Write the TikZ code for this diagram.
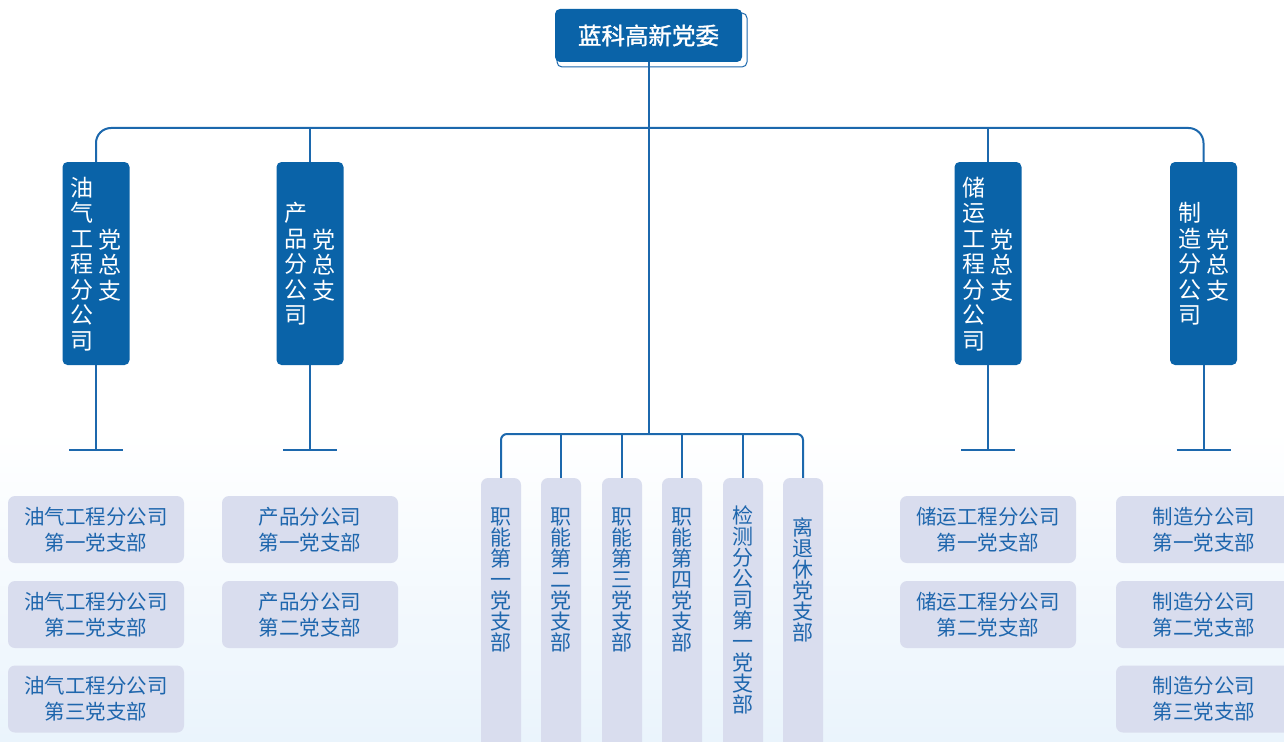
\documentclass[tikz,border=0pt]{standalone}
\usepackage{fontspec}
\setmainfont{Noto Sans CJK SC}
\newfontfamily\cjkbold[FakeBold=1.4]{Noto Sans CJK SC}
\definecolor{dblue}{HTML}{0A63A8}
\definecolor{lblue}{HTML}{1C68AD}
\definecolor{lav}{HTML}{D9DDEE}
\definecolor{tblue}{HTML}{1E66AD}
\definecolor{bgb}{HTML}{EAF4FC}
\begin{document}
\begin{tikzpicture}[x=1pt,y=-1pt,
 conn/.style={draw=lblue,line width=2pt},
 topbox/.style={fill=dblue,rounded corners=5pt,minimum width=187pt,minimum height=53pt,inner sep=0pt,text=white,font=\cjkbold\fontsize{23.5}{26}\selectfont},
 topshadow/.style={draw=lblue,fill=white,line width=1pt,rounded corners=5pt,minimum width=190pt,minimum height=54pt,inner sep=0pt},
 l2box/.style={fill=dblue,rounded corners=5pt,minimum width=67pt,minimum height=203pt,inner sep=0pt},
 l2txt/.style={text=white,align=center,inner sep=0pt,font=\fontsize{23}{25.5}\selectfont},
 leaf/.style={fill=lav,rounded corners=7pt,minimum width=176pt,minimum height=67pt,inner sep=0pt,text=tblue,align=center,font=\fontsize{20.5}{26}\selectfont},
 mleaf/.style={fill=lav,rounded corners=7pt,minimum width=40pt,minimum height=282pt,inner sep=0pt},
 mtxt/.style={text=tblue,align=center,inner sep=0pt,font=\fontsize{21}{21}\selectfont},
]
% canvas and background
\useasboundingbox (0pt,0pt) rectangle (1284pt,-741pt);
\fill[white] (0pt,0pt) rectangle (1284pt,-741pt);
\shade[top color=white,bottom color=bgb] (0pt,-741pt) rectangle (1284pt,-430pt);

% top node
\node[topshadow] (topsh) at (652,40) {};
\node[topbox] (top) at (648.5,35.5) {蓝科高新党委};

% level 2 boxes
\node[l2box] (l1) at (96,263.5) {};
\node[l2box] (l2) at (310,263.5) {};
\node[l2box] (r1) at (988,263.5) {};
\node[l2box] (r2) at (1203.5,263.5) {};

\node[l2txt] (l1a) at (82,264) {油\\气\\工\\程\\分\\公\\司};
\node[l2txt] (l1b) at (110,265) {党\\总\\支};
\node[l2txt] (l2a) at (296,264) {产\\品\\分\\公\\司};
\node[l2txt] (l2b) at (324,265) {党\\总\\支};
\node[l2txt] (r1a) at (974,264) {储\\运\\工\\程\\分\\公\\司};
\node[l2txt] (r1b) at (1002,265) {党\\总\\支};
\node[l2txt] (r2a) at (1189.5,264) {制\\造\\分\\公\\司};
\node[l2txt] (r2b) at (1217.5,265) {党\\总\\支};

% connectors top
\coordinate (bus) at (0,128);
\coordinate (mbus) at (0,434);
\draw[conn,rounded corners=15pt] (l1.north) |- (r2.north |- bus) -- (r2.north);
\draw[conn] (l2.north) -- (l2.north |- bus);
\draw[conn] (r1.north) -- (r1.north |- bus);
\draw[conn] (top.south) -- (top.south |- mbus);

% stubs under level 2
\foreach \n in {l1,l2,r1,r2}{
  \coordinate (\n e) at (\n.south |- 0,450);
  \draw[conn] (\n.south) -- (\n e);
  \draw[conn] ([xshift=-27pt]\n e) -- ([xshift=27pt]\n e);
}

% middle leaves
\node[mleaf] (m1) at (501,619) {};
\node[mleaf] (m2) at (561,619) {};
\node[mleaf] (m3) at (622,619) {};
\node[mleaf] (m4) at (682,619) {};
\node[mleaf] (m5) at (743,619) {};
\node[mleaf] (m6) at (803,619) {};
\node[mtxt] (m1t) at (501,580) {职\\能\\第\\一\\党\\支\\部};
\node[mtxt] (m2t) at (561,580) {职\\能\\第\\二\\党\\支\\部};
\node[mtxt] (m3t) at (622,580) {职\\能\\第\\三\\党\\支\\部};
\node[mtxt] (m4t) at (682,580) {职\\能\\第\\四\\党\\支\\部};
\node[mtxt] (m5t) at (743,610) {检\\测\\分\\公\\司\\第\\一\\党\\支\\部};
\node[mtxt] (m6t) at (803,580) {离\\退\\休\\党\\支\\部};

\draw[conn,rounded corners=6pt] (m1.north) |- (m6.north |- mbus) -- (m6.north);
\foreach \n in {m2,m3,m4,m5}{
  \draw[conn] (\n.north) -- (\n.north |- mbus);
}

% bottom leaves
\node[leaf] (a1) at (96,529.5) {油气工程分公司\\第一党支部};
\node[leaf] (a2) at (96,614.5) {油气工程分公司\\第二党支部};
\node[leaf] (a3) at (96,699) {油气工程分公司\\第三党支部};
\node[leaf] (b1) at (310,529.5) {产品分公司\\第一党支部};
\node[leaf] (b2) at (310,614.5) {产品分公司\\第二党支部};
\node[leaf] (c1) at (988,529.5) {储运工程分公司\\第一党支部};
\node[leaf] (c2) at (988,614.5) {储运工程分公司\\第二党支部};
\node[leaf] (d1) at (1204,529.5) {制造分公司\\第一党支部};
\node[leaf] (d2) at (1204,614.5) {制造分公司\\第二党支部};
\node[leaf] (d3) at (1204,699) {制造分公司\\第三党支部};
\end{tikzpicture}
\end{document}
